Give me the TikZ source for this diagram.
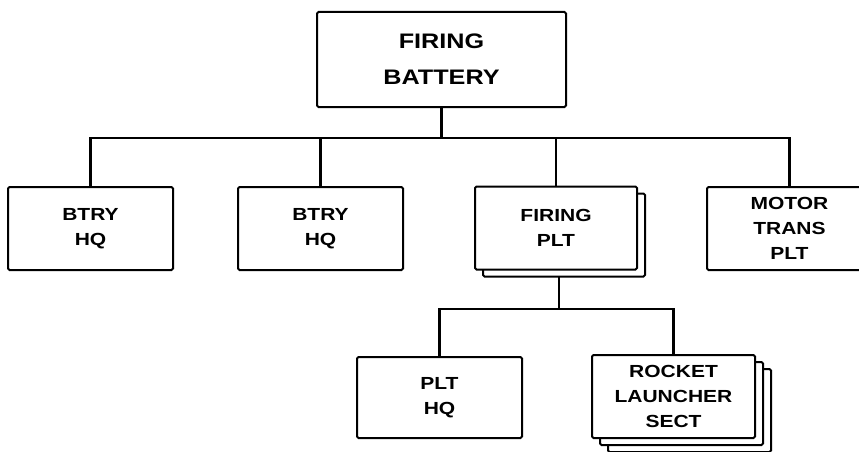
\documentclass[tikz,border=0pt]{standalone}
\usepackage{fontspec}
\newfontfamily\unitfont[FakeStretch=1.2]{Liberation Sans}
\usetikzlibrary{shadows,backgrounds}
\tikzstyle{unit}=[draw=black, fill=white, line width=2pt, rounded corners=1.5pt, align=center, minimum width=165pt, minimum height=83pt, inner sep=0pt, font=\unitfont\bfseries\fontsize{17.5}{25}\selectfont]
\tikzstyle{stacked}=[copy shadow={shadow xshift=8pt, shadow yshift=-7pt, draw=black, fill=white, line width=2pt}]
\tikzstyle{stacked2}=[double copy shadow={shadow xshift=8pt, shadow yshift=-7pt, draw=black, fill=white, line width=2pt}]
\tikzstyle{link}=[line width=2.2pt]

\begin{document}
\begin{tikzpicture}[x=1pt, y=-1pt]
				\useasboundingbox (0,0) rectangle (859,452);
				\node[unit, minimum width=249pt, minimum height=95pt, font=\unitfont\bfseries\fontsize{21}{36}\selectfont] (battery) at (441.5,59.5) {FIRING\\BATTERY};
				\node[unit] (hqA) at (90.5,228.5) {BTRY\\HQ};
				\node[unit] (hqB) at (320.5,228.5) {BTRY\\HQ};
				\node[unit, stacked, minimum width=162pt] (plt) at (556,228) {FIRING\\PLT};
				\node[unit] (motor) at (789.5,228.5) {MOTOR\\TRANS\\PLT};
				\node[unit, minimum height=81pt] (pltHQ) at (439.5,397.5) {PLT\\HQ};
				\node[unit, stacked2, minimum width=163pt] (rocket) at (673.5,396.5) {ROCKET\\LAUNCHER\\SECT};
				\coordinate (busA) at (441.5,138);
				\coordinate (busB) at (556,309);
				\begin{scope}[on background layer]
					\draw[link] (battery.south) -- (busA);
					\draw[link] (hqA.north) |- (busA) -| (motor.north);
					\draw[link] (hqB.north) -- (hqB.north |- busA);
					\draw[link] (plt.north) -- (plt.north |- busA);
					\draw[link] ([xshift=3pt]plt.south) -- ([xshift=3pt]busB);
					\draw[link] (pltHQ.north) |- (busB) -| (rocket.north);
				\end{scope}
			\end{tikzpicture}
\end{document}
